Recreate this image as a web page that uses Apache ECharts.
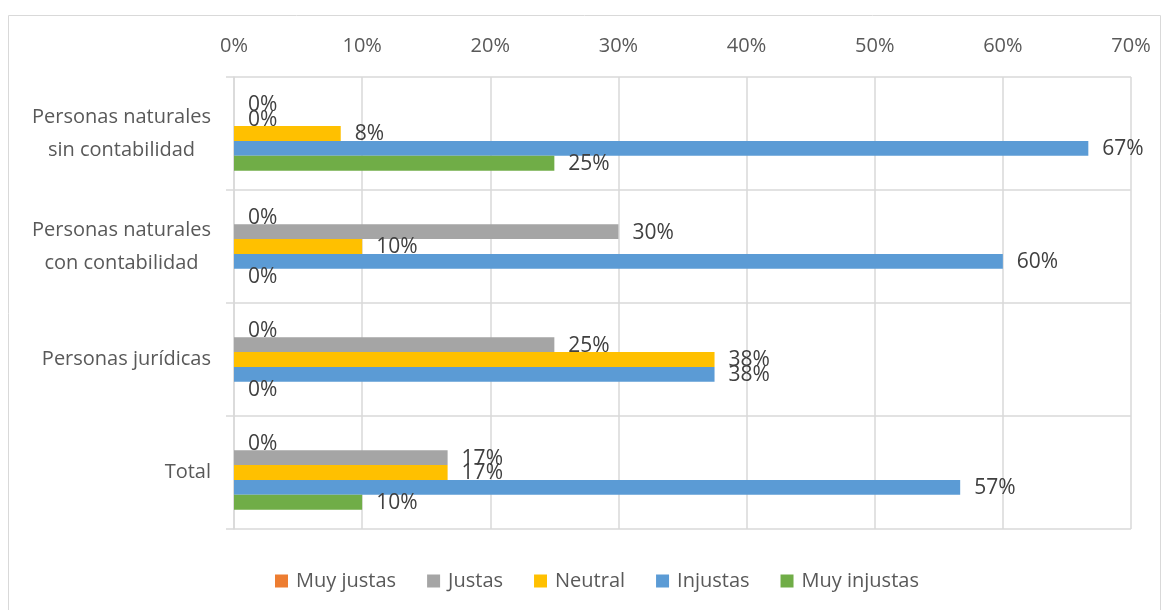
<!DOCTYPE html>
<html>
<head>
<meta charset="utf-8">
<script src="https://cdn.jsdelivr.net/npm/echarts@6/dist/echarts.min.js"></script>
<style>
  html, body { margin: 0; padding: 0; background: #fff; }
</style>
</head>
<body>
<!-- chart container -->
<div id="echartContainer" style="width:1166px; height:610px"></div>
<script>
var categories = [
  "Personas naturales\nsin contabilidad",
  "Personas naturales\ncon contabilidad",
  "Personas jurídicas",
  "Total"
];
var seriesNames = ["Muy justas", "Justas", "Neutral", "Injustas", "Muy injustas"];
var seriesColors = ["#ED7D31", "#A5A5A5", "#FFC000", "#5B9BD5", "#70AD47"];

// percentages per category (top to bottom)
var muyJustas = [0, 0, 0, 0];
var justas = [0, 30, 25, 16.67];
var neutral = [8.33, 10, 37.5, 16.67];
var injustas = [66.67, 60, 37.5, 56.67];
var muyInjustas = [25, 0, 0, 10];

var xTicks = [0, 10, 20, 30, 40, 50, 60, 70];

var seriesData = [muyJustas, justas, neutral, injustas, muyInjustas];
var font = "'Open Sans', 'Noto Sans', sans-serif";

var myChart = echarts.init(document.getElementById("echartContainer"));

var series = seriesNames.map(function (name, i) {
  return {
    name: name,
    type: "bar",
    data: seriesData[i],
    barGap: "0%",
    barCategoryGap: "34%",
    itemStyle: { color: seriesColors[i] },
    label: {
      show: true,
      position: "right",
      distance: 14,
      offset: [0, 1],
      color: "#404040",
      fontFamily: font,
      fontSize: 21,
      formatter: function (p) {
        return Math.round(p.value) + "%";
      }
    }
  };
});

myChart.setOption({
  animation: false,
  textStyle: { fontFamily: font },
  graphic: [
    {
      type: "rect",
      shape: { x: 8.5, y: 15.5, width: 1152, height: 620 },
      style: { fill: null, stroke: "#d9d9d9", lineWidth: 1 },
      silent: true
    }
  ],
  grid: {
    left: 234,
    right: 35,
    top: 77,
    bottom: 81
  },
  legend: {
    bottom: 14,
    left: 270,
    itemWidth: 13,
    itemHeight: 13,
    itemGap: 31,
    icon: "rect",
    textStyle: { color: "#595959", fontSize: 20, fontFamily: font, padding: [0, 0, 0, 3] },
    data: seriesNames
  },
  xAxis: {
    type: "value",
    position: "top",
    min: 0,
    max: 70,
    interval: 10,
    axisLine: { show: false },
    axisTick: { show: false },
    axisLabel: {
      color: "#595959",
      fontSize: 20,
      fontFamily: font,
      margin: 21,
      formatter: function (v) {
        return xTicks.indexOf(v) >= 0 ? v + "%" : "";
      }
    },
    splitLine: { show: true, lineStyle: { color: "#d9d9d9", width: 1.5 } }
  },
  yAxis: {
    type: "category",
    inverse: true,
    data: categories,
    axisLine: { show: true, lineStyle: { color: "#d9d9d9", width: 1.5 } },
    axisTick: { show: true, length: 8, lineStyle: { color: "#d9d9d9", width: 1.5 } },
    splitLine: { show: true, lineStyle: { color: "#d9d9d9", width: 1.5 } },
    axisLabel: {
      color: "#595959",
      fontSize: 20,
      fontFamily: font,
      margin: 23,
      formatter: function (v) {
        return v.split("\n").map(function (s) { return "{c|" + s + "}"; }).join("\n");
      },
      rich: {
        c: { align: "center", fontSize: 20, lineHeight: 33, color: "#595959", fontFamily: font }
      }
    }
  },
  series: series
});
</script>
</body>
</html>
